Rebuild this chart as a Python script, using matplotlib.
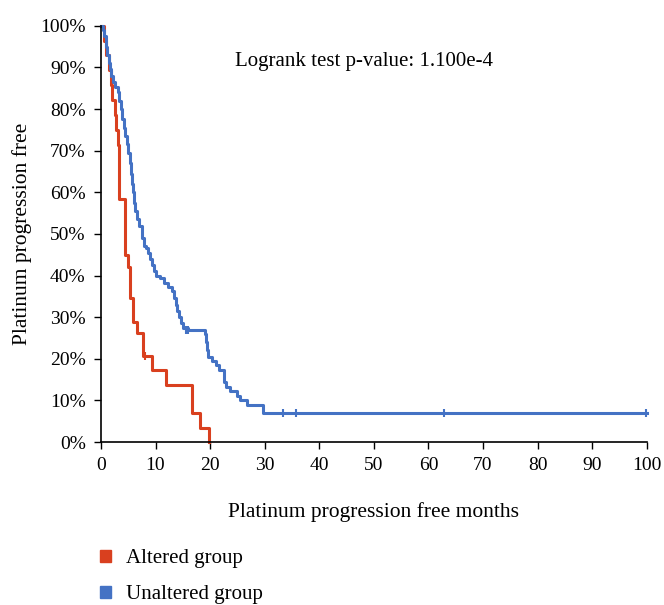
import matplotlib
matplotlib.use("Agg")
import matplotlib.pyplot as plt
from matplotlib.ticker import PercentFormatter
from matplotlib.patches import Patch

plt.rcParams['font.family'] = ['Liberation Serif', 'DejaVu Serif']

# Kaplan-Meier steps (months, fraction progression free)
altered_t = [0, 0.5, 1.0, 1.4, 1.8, 2.1, 2.5, 2.8, 3.1, 3.4, 4.5, 4.9, 5.4,
             5.9, 6.6, 7.7, 9.4, 12.0, 16.6, 18.1, 19.8]
altered_s = [1.0, 0.964, 0.929, 0.893, 0.857, 0.821, 0.786, 0.75, 0.714, 0.583,
             0.45, 0.42, 0.345, 0.288, 0.262, 0.207, 0.172, 0.138, 0.069, 0.034, 0.0]
altered_cens_t = [8.1]
altered_cens_s = [0.207]

unaltered_t = [0, 0.3, 0.6, 0.9, 1.1, 1.4, 1.6, 1.9, 2.2, 2.5, 3.2, 3.4, 3.6,
               3.9, 4.2, 4.5, 4.8, 5.0, 5.3, 5.5, 5.7, 5.9, 6.1, 6.3, 6.6, 6.9,
               7.6, 7.9, 8.2, 8.6, 9.0, 9.4, 9.7, 10.0, 10.8, 11.5, 12.2, 13.1,
               13.4, 13.7, 14.0, 14.3, 14.6, 15.0, 16.0, 19.0, 19.2, 19.4, 19.7,
               20.4, 21.0, 21.7, 22.5, 22.9, 23.6, 24.9, 25.4, 26.7, 29.7, 100]
unaltered_s = [1.0, 0.99, 0.975, 0.95, 0.93, 0.91, 0.895, 0.88, 0.865, 0.853,
               0.84, 0.82, 0.80, 0.775, 0.755, 0.735, 0.715, 0.695, 0.67, 0.645,
               0.62, 0.60, 0.575, 0.555, 0.535, 0.518, 0.49, 0.47, 0.465, 0.455,
               0.44, 0.425, 0.41, 0.398, 0.393, 0.383, 0.373, 0.363, 0.345, 0.33,
               0.315, 0.30, 0.285, 0.275, 0.268, 0.26, 0.24, 0.22, 0.205, 0.195,
               0.185, 0.172, 0.145, 0.132, 0.123, 0.11, 0.102, 0.088, 0.07, 0.07]
unaltered_cens_t = [15.5, 15.9, 33.3, 35.7, 62.8, 99.8]
unaltered_cens_s = [0.27, 0.268, 0.07, 0.07, 0.07, 0.07]

red = '#d9401f'
blue = '#4472c4'

fig = plt.figure(figsize=(6.64, 6.05), dpi=100)
ax = fig.add_axes([0.152, 0.2694, 0.822, 0.688])

ax.step(altered_t, altered_s, where='post', color=red, lw=2.2, clip_on=False)
ax.step(unaltered_t, unaltered_s, where='post', color=blue, lw=2.2, clip_on=False)
ax.plot(altered_cens_t, altered_cens_s, '|', color=red, ms=6, mew=1.5)
ax.plot(unaltered_cens_t, unaltered_cens_s, '|', color=blue, ms=6, mew=1.5,
        clip_on=False)

ax.set_xlim(0, 100)
ax.set_ylim(0, 1.0)
ax.set_xticks(range(0, 101, 10))
ax.set_yticks([i / 10 for i in range(11)])
ax.yaxis.set_major_formatter(PercentFormatter(1.0, decimals=0))
ax.tick_params(labelsize=14, length=5, width=1, colors='black', pad=6)
for s in ['top', 'right']:
    ax.spines[s].set_visible(False)
for s in ['left', 'bottom']:
    ax.spines[s].set_linewidth(1.2)

ax.set_xlabel('Platinum progression free months', fontsize=15.5, labelpad=20)
ax.set_ylabel('Platinum progression free', fontsize=15.5, labelpad=6)
ax.text(0.482, 0.915, 'Logrank test p-value: 1.100e-4', transform=ax.transAxes,
        ha='center', va='center', fontsize=15)

handles = [Patch(color=red, label='Altered group'),
           Patch(color=blue, label='Unaltered group')]
fig.legend(handles=handles, loc='upper left', bbox_to_anchor=(0.123, 0.123),
           frameon=False, fontsize=15, handlelength=0.5, handleheight=0.5,
           handletextpad=0.75, labelspacing=0.8)

fig.savefig('out.png', dpi=100)
